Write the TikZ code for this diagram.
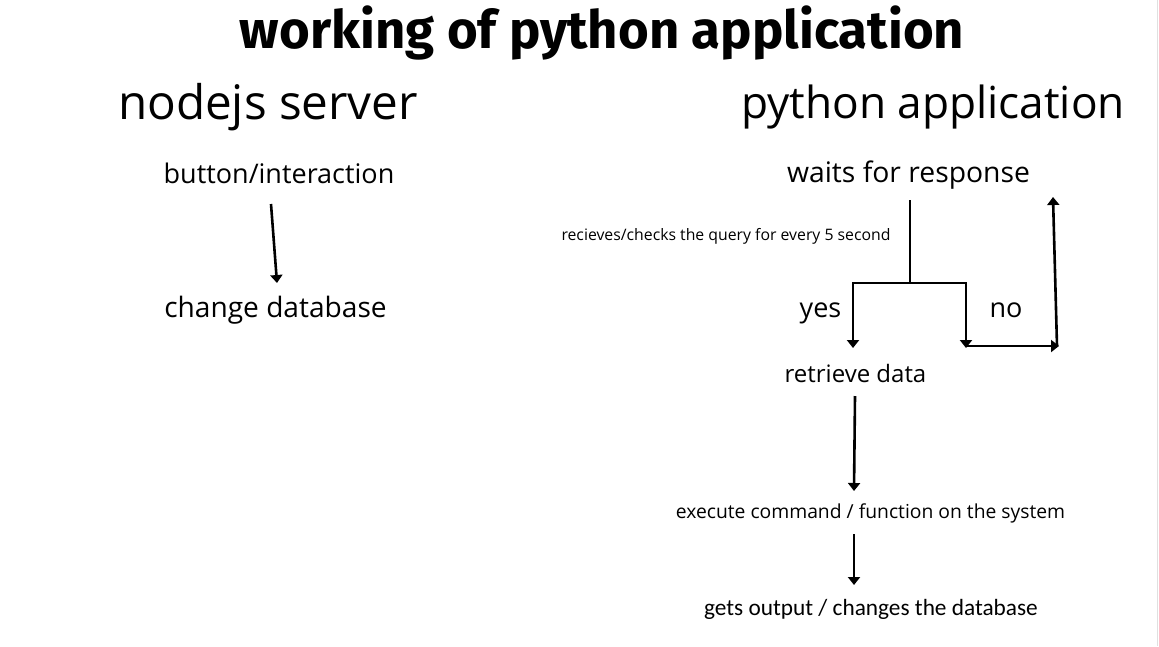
\documentclass[tikz,border=0pt]{standalone}
\usepackage{fontspec}
\setmainfont{Open Sans}[Ligatures=NoCommon]
\newfontfamily\titlefont{Fira Sans}
\newfontfamily\condfont{Carlito}
\usetikzlibrary{arrows.meta}
\begin{document}
\begin{tikzpicture}[x=1pt,y=-1pt,
  lbl/.style={inner sep=0pt, anchor=base},
  arr/.style={line width=2.6pt, -{Triangle[width=12pt,length=8pt]}},
  ln/.style={line width=2.6pt}]
\useasboundingbox (0,0) rectangle (1159,646);
\fill[white] (0,0) rectangle (1159,646);
\draw[black!12, line width=1.5pt] (1157.5,0) -- (1157.5,646);
% titles
\node[lbl] (title) at (602,48) {\titlefont\fontsize{52.7}{60}\selectfont\bfseries working of python application};
\node[lbl] (h1) at (268,119) {\fontsize{47.6}{52}\selectfont nodejs server};
\node[lbl] (h2) at (933,118) {\fontsize{44.2}{52}\selectfont python application};
% left column
\node[lbl] (bi) at (279,183) {\fontsize{27}{30}\selectfont button/interaction};
\node[lbl] (cd) at (275.5,317) {\fontsize{28.1}{30}\selectfont change database};
% right column
\node[lbl] (wr) at (908.5,182) {\fontsize{28.3}{30}\selectfont waits for response};
\node[lbl] (q) at (726,240) {\fontsize{15.8}{18}\selectfont recieves/checks the query for every 5 second};
\node[lbl] (yes) at (820.5,317) {\fontsize{27}{30}\selectfont yes};
\node[lbl] (no) at (1006,317) {\fontsize{27}{30}\selectfont no};
\node[lbl] (rd) at (855.5,382) {\fontsize{24}{28}\selectfont retrieve data};
\node[lbl] (ex) at (870.5,518) {\fontsize{19.3}{22}\selectfont execute command / function on the system};
\node[lbl] (go) at (871,615) {\condfont\fontsize{23.3}{26}\selectfont gets output / changes the database};
% connector points
\coordinate (a1) at (271,204);
\coordinate (a2) at (277,283);
\coordinate (t0) at (910,200);
\coordinate (t1) at (910,283);
\coordinate (tl) at (853,283);
\coordinate (tr) at (966,283);
\coordinate (yl) at (853,348);
\coordinate (nr) at (966,348);
\coordinate (nb) at (966,346);
\coordinate (ne) at (1059,346);
\coordinate (us) at (1057,346);
\coordinate (ue) at (1053,197);
\coordinate (r1) at (855,396);
\coordinate (r2) at (854,491);
\coordinate (e1) at (854,534);
\coordinate (e2) at (854,585);
% connectors
\draw[arr] (a1) -- (a2);
\draw[ln] (t0) -- (t1);
\draw[ln, line cap=rect] (tl) -- (tr);
\draw[arr] (tl) -- (yl);
\draw[arr] (tr) -- (nr);
\draw[arr] (nb) -- (ne);
\draw[arr] (us) -- (ue);
\draw[arr] (r1) -- (r2);
\draw[arr] (e1) -- (e2);
\end{tikzpicture}
\end{document}
